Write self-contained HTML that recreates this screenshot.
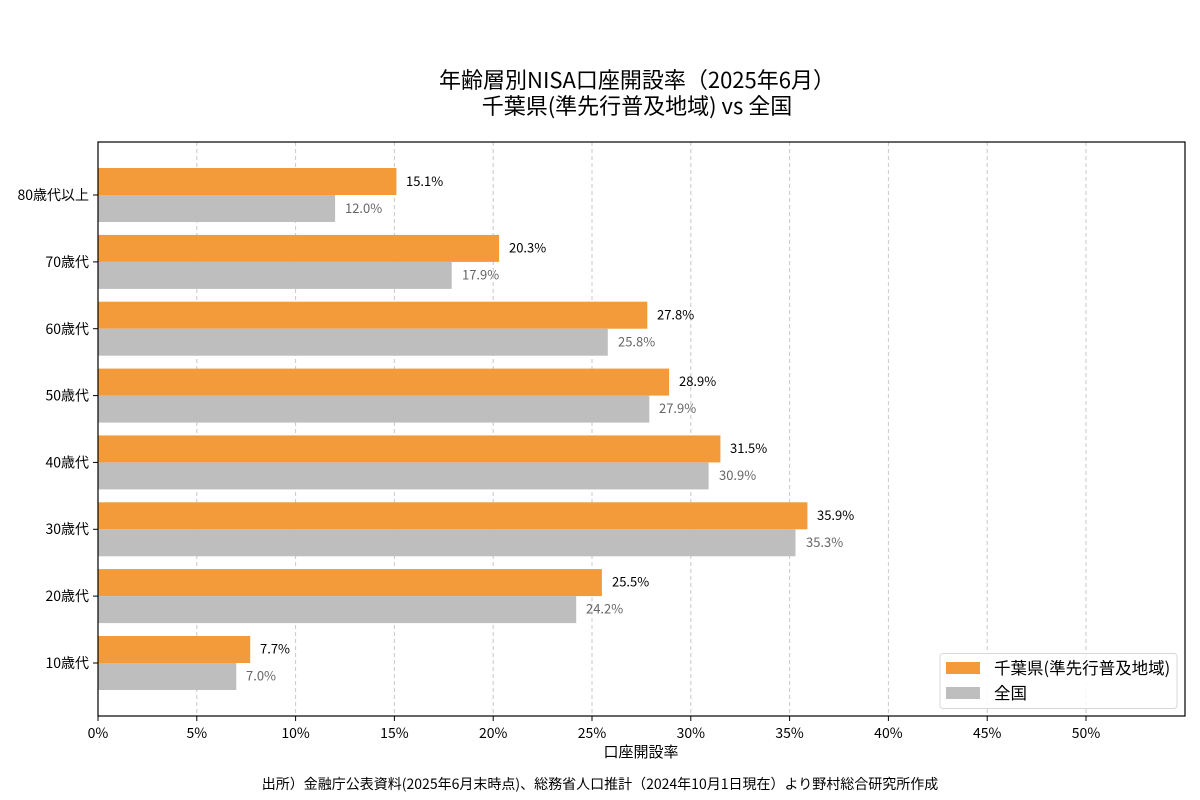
<!DOCTYPE html>
<html><head><meta charset="utf-8"><style>
body{margin:0;background:#fff;}
svg{display:block;font-family:"Noto Sans CJK JP","Liberation Sans",sans-serif;}
</style></head><body>
<svg width="1200" height="800" viewBox="0 0 1200 800">
<rect width="1200" height="800" fill="#fff"/>
<text x="637" y="88" font-size="22" text-anchor="middle" fill="#000">年齢層別NISA口座開設率（2025年6月）</text>
<text x="637" y="114" font-size="22" text-anchor="middle" fill="#000">千葉県(準先行普及地域) vs 全国</text>
<g stroke="#c8c8c8" stroke-dasharray="4,3" stroke-width="1">
<line x1="196.8" y1="142" x2="196.8" y2="716"/><line x1="295.6" y1="142" x2="295.6" y2="716"/>
<line x1="394.4" y1="142" x2="394.4" y2="716"/><line x1="493.2" y1="142" x2="493.2" y2="716"/>
<line x1="592" y1="142" x2="592" y2="716"/><line x1="690.8" y1="142" x2="690.8" y2="716"/>
<line x1="789.6" y1="142" x2="789.6" y2="716"/><line x1="888.4" y1="142" x2="888.4" y2="716"/>
<line x1="987.2" y1="142" x2="987.2" y2="716"/><line x1="1086" y1="142" x2="1086" y2="716"/>
</g>
<g fill="#f39a3a">
<rect x="98" y="168" width="298.4" height="27"/>
<rect x="98" y="234.9" width="401.1" height="27"/>
<rect x="98" y="301.7" width="549.3" height="27"/>
<rect x="98" y="368.6" width="571.1" height="27"/>
<rect x="98" y="435.4" width="622.4" height="27"/>
<rect x="98" y="502.3" width="709.4" height="27"/>
<rect x="98" y="569.1" width="503.9" height="27"/>
<rect x="98" y="636" width="152.2" height="27"/>
</g>
<g fill="#bebebe">
<rect x="98" y="195" width="237.1" height="27"/>
<rect x="98" y="261.9" width="353.7" height="27"/>
<rect x="98" y="328.7" width="509.8" height="27"/>
<rect x="98" y="395.6" width="551.3" height="27"/>
<rect x="98" y="462.4" width="610.6" height="27"/>
<rect x="98" y="529.3" width="697.5" height="27"/>
<rect x="98" y="596.1" width="478.2" height="27"/>
<rect x="98" y="663" width="138.3" height="27"/>
</g>
<g font-size="13" fill="#000">
<text x="406" y="186">15.1%</text>
<text x="509" y="252.5">20.3%</text>
<text x="657" y="319.5">27.8%</text>
<text x="679" y="386">28.9%</text>
<text x="730" y="453">31.5%</text>
<text x="817" y="520">35.9%</text>
<text x="612" y="586.5">25.5%</text>
<text x="260" y="653.5">7.7%</text>
</g>
<g font-size="13" fill="#666">
<text x="345" y="213">12.0%</text>
<text x="462" y="279.5">17.9%</text>
<text x="618" y="346.5">25.8%</text>
<text x="659" y="413">27.9%</text>
<text x="719" y="480">30.9%</text>
<text x="806" y="547">35.3%</text>
<text x="586" y="613.5">24.2%</text>
<text x="246" y="680.5">7.0%</text>
</g>
<rect x="98" y="142" width="1087" height="574" fill="none" stroke="#000" stroke-width="1.2"/>
<g stroke="#000" stroke-width="1">
<line x1="93" y1="195" x2="98" y2="195"/><line x1="93" y1="261.9" x2="98" y2="261.9"/>
<line x1="93" y1="328.7" x2="98" y2="328.7"/><line x1="93" y1="395.6" x2="98" y2="395.6"/>
<line x1="93" y1="462.4" x2="98" y2="462.4"/><line x1="93" y1="529.3" x2="98" y2="529.3"/>
<line x1="93" y1="596.1" x2="98" y2="596.1"/><line x1="93" y1="663" x2="98" y2="663"/>
<line x1="98" y1="716" x2="98" y2="721"/><line x1="196.8" y1="716" x2="196.8" y2="721"/>
<line x1="295.6" y1="716" x2="295.6" y2="721"/><line x1="394.4" y1="716" x2="394.4" y2="721"/>
<line x1="493.2" y1="716" x2="493.2" y2="721"/><line x1="592" y1="716" x2="592" y2="721"/>
<line x1="690.8" y1="716" x2="690.8" y2="721"/><line x1="789.6" y1="716" x2="789.6" y2="721"/>
<line x1="888.4" y1="716" x2="888.4" y2="721"/><line x1="987.2" y1="716" x2="987.2" y2="721"/>
<line x1="1086" y1="716" x2="1086" y2="721"/>
</g>
<g font-size="14" fill="#000" text-anchor="end">
<text x="89" y="200">80歳代以上</text><text x="89" y="267">70歳代</text>
<text x="89" y="334">60歳代</text><text x="89" y="400.5">50歳代</text>
<text x="89" y="467.5">40歳代</text><text x="89" y="534">30歳代</text>
<text x="89" y="601">20歳代</text><text x="89" y="668">10歳代</text>
</g>
<g font-size="14" fill="#000" text-anchor="middle">
<text x="98" y="738">0%</text><text x="196.8" y="738">5%</text><text x="295.6" y="738">10%</text>
<text x="394.4" y="738">15%</text><text x="493.2" y="738">20%</text><text x="592" y="738">25%</text>
<text x="690.8" y="738">30%</text><text x="789.6" y="738">35%</text><text x="888.4" y="738">40%</text>
<text x="987.2" y="738">45%</text><text x="1086" y="738">50%</text>
</g>
<text x="641" y="757" font-size="15" text-anchor="middle">口座開設率</text>
<text x="600" y="789" font-size="14" text-anchor="middle">出所）金融庁公表資料(2025年6月末時点)、総務省人口推計（2024年10月1日現在）より野村総合研究所作成</text>
<rect x="940" y="653.5" width="237" height="55" rx="3" fill="#fff" fill-opacity="0.85" stroke="#d8d8d8"/>
<rect x="946" y="662" width="34" height="12" fill="#f39a3a"/>
<rect x="946" y="687" width="34" height="12" fill="#bebebe"/>
<text x="994" y="674" font-size="16.5">千葉県(準先行普及地域)</text>
<text x="994" y="699" font-size="16.5">全国</text>
</svg>
</body></html>
